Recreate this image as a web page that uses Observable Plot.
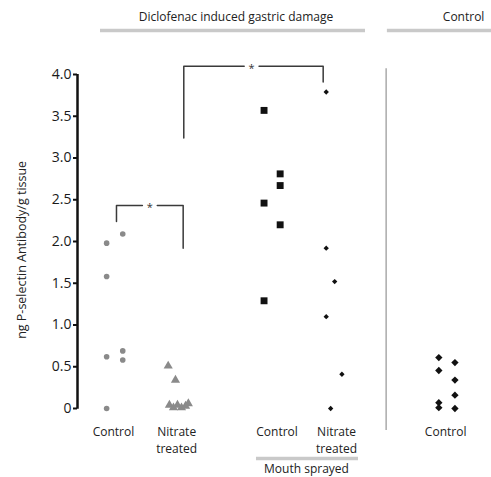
<!DOCTYPE html>
<html>
<head>
<meta charset="utf-8">
<script src="https://cdn.jsdelivr.net/npm/d3@7"></script>
<script src="https://cdn.jsdelivr.net/npm/@observablehq/plot@0.6"></script>
<style>
  body { margin: 0; background: #fff; }
</style>
</head>
<body>
<div id="chart"></div>
<script>
// ---- Data: P-selectin antibody binding (ng / g tissue) ----
const groupLabels = ["Control", "Nitrate\ntreated", "Control", "Nitrate\ntreated", "Control"];

// Diclofenac induced damage, untreated control
const dicloControlValues = [1.98, 1.58, 0.62, 0.0, 2.09, 0.69, 0.58];
const dicloControlColumn = [-1, -1, -1, -1, 1, 1, 1];

// Diclofenac induced damage, nitrate treated
const dicloNitrateValues = [0.51, 0.34, 0.04, 0.01, 0.04, 0.01, 0.03, 0.06];
const dicloNitrateColumn = [-1.05, -0.15, -0.9, -0.4, 0.1, 0.6, 1.1, 1.45];

// Mouth sprayed, control
const sprayControlValues = [3.57, 2.46, 1.29, 2.81, 2.67, 2.20];
const sprayControlColumn = [-1, -1, -1, 1, 1, 1];

// Mouth sprayed, nitrate treated
const sprayNitrateValues = [3.79, 1.92, 1.10, 1.52, 0.41, 0.0];
const sprayNitrateColumn = [-0.9, -0.9, -0.9, 0.15, 1.05, -0.35];

// Healthy control
const healthyValues = [0.61, 0.455, 0.07, 0.01, 0.55, 0.34, 0.16, 0.0];
const healthyColumn = [-1, -1, -1, -1, 1, 1, 1, 1];

// Significance brackets: [left group, right group, top, left foot, right foot]
const brackets = [
  {from: 0, to: 1, top: 2.43, left: 2.24, right: 1.92},
  {from: 1, to: 3, top: 4.10, left: 3.24, right: 3.91}
];

const yTicks = [0, 0.5, 1, 1.5, 2, 2.5, 3, 3.5, 4];
const yTickLabels = ["0", "0.5", "1.0", "1.5", "2.0", "2.5", "3.0", "3.5", "4.0"];

// ---- Layout along the x scale ----
const slots = [1, 2, 3.54, 4.53, 6.36];
const step = 0.13;           // column spacing within a group
const xStart = 0.4, xEnd = 7.08;
const bracketEnds = [[1.029, 2.105], [2.115, 4.364]];
const starGap = 0.12;

const toPoints = (g, values, cols) =>
  values.map((v, i) => ({x: slots[g] + cols[i] * step, y: v}));

const gDicloControl = toPoints(0, dicloControlValues, dicloControlColumn);
const gDicloNitrate = toPoints(1, dicloNitrateValues, dicloNitrateColumn);
const gSprayControl = toPoints(2, sprayControlValues, sprayControlColumn);
const gSprayNitrate = toPoints(3, sprayNitrateValues, sprayNitrateColumn);
const gHealthy = toPoints(4, healthyValues, healthyColumn);

const bracketLines = [];
const stars = [];
brackets.forEach((b, i) => {
  const [x1, x2] = bracketEnds[i];
  const mid = (x1 + x2) / 2 - (i === 0 ? 0.0 : 0.03);
  bracketLines.push([{x: x1, y: b.left}, {x: x1, y: b.top}, {x: mid - starGap, y: b.top}]);
  bracketLines.push([{x: mid + starGap, y: b.top}, {x: x2, y: b.top}, {x: x2, y: b.right}]);
  stars.push({x: mid, y: b.top});
});

// each label line becomes its own row so the two lines stack without overlapping
const labelShift = [-0.02, 0, 0.08, 0.05, -0.02];
const labelRows = groupLabels.flatMap((t, i) =>
  t.split("\n").map((line, k) => ({x: slots[i] + labelShift[i], line: k, text: line})));
const tickRows = yTicks.map((v, i) => ({y: v, text: yTickLabels[i]}));

const grey = "#8a8a8a";
const ink = "#111";
const band = "#c9c9c9";

const chart = Plot.plot({
  width: 491,
  height: 477,
  marginTop: 74,
  marginBottom: 69,
  marginLeft: 77,
  marginRight: 0,
  x: {domain: [xStart, xEnd], axis: null},
  y: {domain: [0, 4], axis: null},
  style: {fontFamily: "'Open Sans', sans-serif", fontSize: "12px", color: "#222", background: "#fff", overflow: "visible"},
  marks: [
    // y axis: tick marks, tick labels, spine, title
    Plot.axisY({
      ticks: yTicks,
      tickFormat: () => "",
      tickSize: 4,
      strokeWidth: 2,
      stroke: ink,
      label: null
    }),
    Plot.text(tickRows, {
      x: xStart, y: "y", text: "text", dx: -6, textAnchor: "end", fontSize: 14, fill: "#1a1a1a"
    }),
    Plot.ruleX([xStart], {y1: -0.01, y2: 4, stroke: ink, strokeWidth: 2.5}),
    Plot.text(["ng P-selectin Antibody/g tissue"], {
      x: xStart, y: 1.90, dx: -56, rotate: -90, fontSize: 12.5, fill: "#222"
    }),

    // separator between treated and healthy groups
    Plot.ruleX([5.38], {y1: -0.263, y2: 4.07, stroke: "#aaa", strokeWidth: 1.5}),

    // header bands
    Plot.ruleY([4], {x1: 0.771, x2: 5.047, dy: -44, stroke: band, strokeWidth: 3.5}),
    Plot.ruleY([4], {x1: 5.40, x2: xEnd, dy: -44, stroke: band, strokeWidth: 3.5}),
    Plot.text(["Diclofenac induced gastric damage"], {x: 2.957, y: 4, dy: -57, fontSize: 12, fill: "#222"}),
    Plot.text(["Control"], {x: 6.63, y: 4, dy: -57, fontSize: 12, fill: "#222"}),

    // group labels (first and second line)
    Plot.text(labelRows.filter(d => d.line === 0), {
      x: "x", y: 0, text: "text", dy: 24, fontSize: 12, fill: "#222"
    }),
    Plot.text(labelRows.filter(d => d.line === 1), {
      x: "x", y: 0, text: "text", dy: 41, fontSize: 12, fill: "#222"
    }),
    Plot.ruleY([0], {x1: 3.288, x2: 4.934, dy: 50, stroke: band, strokeWidth: 3.5}),
    Plot.text(["Mouth sprayed"], {x: 4.095, y: 0, dy: 61, fontSize: 12, fill: "#222"}),

    // significance brackets
    ...bracketLines.map(seg => Plot.line(seg, {x: "x", y: "y", stroke: "#3a3a3a", strokeWidth: 1.5})),
    Plot.text(stars, {x: "x", y: "y", text: () => "*", dy: 2, fontSize: 11, fill: "#333"}),

    // observations
    Plot.dot(gDicloControl, {x: "x", y: "y", symbol: "circle", r: 2.8, fill: grey}),
    Plot.dot(gDicloNitrate, {x: "x", y: "y", symbol: "triangle", r: 3.4, fill: grey}),
    Plot.dot(gSprayControl, {x: "x", y: "y", symbol: "square", r: 3.9, fill: ink}),
    Plot.dot(gSprayNitrate, {x: "x", y: "y", symbol: "diamond2", r: 2.4, fill: ink}),
    Plot.dot(gHealthy, {x: "x", y: "y", symbol: "diamond2", r: 3.3, fill: ink})
  ]
});

document.getElementById("chart").appendChild(chart);
</script>
</body>
</html>
